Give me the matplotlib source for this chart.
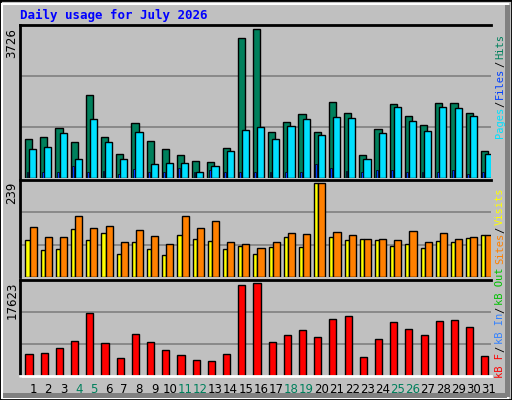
import matplotlib
matplotlib.use("Agg", force=True)
import matplotlib.pyplot as plt
from matplotlib.patches import Rectangle
import numpy as np

days = list(range(1, 32))
weekend = [4, 5, 11, 12, 18, 19, 25, 26]
hits = [969, 1020, 1248, 894, 2082, 1020, 590, 1374, 919, 717, 565, 438, 413, 742, 3524, 3726,
        1147, 1400, 1602, 1147, 1905, 1627, 565, 1222, 1855, 1551, 1324, 1880, 1880, 1627, 666]
files = [717, 767, 1121, 489, 1475, 894, 489, 1147, 362, 388, 388, 160, 312, 666, 1197, 1273,
         969, 1298, 1475, 1071, 1526, 1501, 489, 1121, 1779, 1425, 1172, 1779, 1753, 1551, 590]
pages = [150, 140, 150, 312, 150, 180, 110, 219, 150, 140, 261, 150, 190, 140, 150, 140,
         140, 150, 140, 362, 261, 180, 150, 190, 210, 150, 140, 150, 210, 90, 140]
visits = [94, 68, 71, 123, 94, 112, 58, 89, 71, 55, 107, 97, 91, 71, 79, 58,
          76, 102, 76, 239, 102, 94, 97, 94, 79, 84, 73, 91, 89, 99, 107]
sites = [128, 102, 102, 154, 125, 130, 89, 120, 104, 84, 156, 125, 141, 89, 84, 73,
         89, 112, 110, 239, 115, 107, 97, 97, 94, 117, 89, 112, 97, 102, 107]
kbytes = [4180, 4373, 5274, 6624, 11833, 6238, 3344, 7975, 6432, 4888, 3923, 2958, 2765, 4180,
          17237, 17623, 6432, 7782, 8747, 7396, 10869, 11255, 3537, 7010, 10290, 8940, 7782,
          10483, 10676, 9325, 3730]

W, H = 512, 400
BG = "#C0C0C0"
fig = plt.figure(figsize=(W / 100, H / 100), dpi=100, facecolor=BG)

# frame / bevel, drawn under the axes
fig.patches.append(Rectangle((0, 0), W, H, transform=None, fc=BG, ec="black", lw=2, zorder=-3))
fig.patches.append(Rectangle((2, 2), W - 6, H - 6, transform=None, fill=False, ec="white", lw=1.5, zorder=-2))
fig.patches.append(Rectangle((W - 7, 3), 5, H - 8, transform=None, fc="#808080", ec="none", zorder=-2))
fig.patches.append(Rectangle((3, 2), W - 8, 5, transform=None, fc="#808080", ec="none", zorder=-2))

x = np.array(days) - 1
px_left, px_right = 20, 491


def panel(top, bottom):
    ax = fig.add_axes([px_left / W, 1 - bottom / H, (px_right - px_left) / W, (bottom - top) / H])
    ax.set_zorder(1)
    ax.set_facecolor(BG)
    ax.set_xlim(0, 31)
    ax.set_xticks([])
    ax.set_yticks([])
    for s in ax.spines.values():
        s.set_visible(False)
    for side_name in ("top", "left"):
        ax.spines[side_name].set_visible(True)
        ax.spines[side_name].set_color("black")
        ax.spines[side_name].set_linewidth(2)
    return ax


kw = dict(align="edge", edgecolor="black", linewidth=1.0)

ax1 = panel(25, 178)
ymax = max(hits) * 1.03
ax1.set_ylim(0, ymax)
for f in (1 / 3, 2 / 3):
    ax1.axhline(ymax * f, color="#808080", lw=1.2, zorder=0)
ax1.bar(x + 0.33, hits, width=0.47, color="#00805C", **kw)
ax1.bar(x + 0.6, files, width=0.47, color="#00E0FF", **kw)
ax1.bar(x + 0.43, pages, width=0.12, color="#0040FF", edgecolor="black", linewidth=0.5, align="edge")

ax2 = panel(180, 277)
ymax = max(sites) * 1.03
ax2.set_ylim(0, ymax)
for f in (1 / 3, 2 / 3):
    ax2.axhline(ymax * f, color="#808080", lw=1.2, zorder=0)
ax2.bar(x + 0.36, visits, width=0.27, color="#FFFF00", **kw)
ax2.bar(x + 0.63, sites, width=0.47, color="#FF8000", **kw)

ax3 = panel(280, 376)
ymax = max(kbytes) * 1.03
ax3.set_ylim(0, ymax)
for f in (1 / 3, 2 / 3):
    ax3.axhline(ymax * f, color="#808080", lw=1.2, zorder=0)
ax3.bar(x + 0.36, kbytes, width=0.47, color="#FF0000", **kw)
ax3.spines["bottom"].set_visible(True)
ax3.spines["bottom"].set_color("white")
ax3.spines["bottom"].set_linewidth(2)
ax3.set_xticks(x + 0.86)
ax3.set_xticklabels([str(d) for d in days], fontsize=8.5, family="DejaVu Sans")
ax3.tick_params(axis="x", length=0, pad=5)
for lbl, d in zip(ax3.get_xticklabels(), days):
    lbl.set_color("#00805C" if d in weekend else "black")


def fy(py):
    return 1 - py / H


fig.text(20 / W, fy(15), "Daily usage for July 2026", color="#0000FF", fontsize=9,
         fontweight="bold", family="DejaVu Sans Mono", va="center")
for txt, py in [(str(max(hits)), 28), (str(max(sites)), 182), (str(max(kbytes)), 282)]:
    fig.text(12 / W, fy(py), txt, rotation=90, fontsize=8.5, va="top", ha="center")


def side(pieces, py_bottom):
    y = fy(py_bottom)
    for txt, col in pieces:
        fig.text(500 / W, y, txt, rotation=90, color=col, fontsize=7.5,
                 family="DejaVu Sans Mono", va="bottom", ha="center")
        y += (len(txt) + 0.4) * 5.8 / H


side([("Pages", "#00E0FF"), ("/", "black"), ("Files", "#0040FF"), ("/", "black"), ("Hits", "#00805C")], 138)
side([("Sites", "#FF8000"), ("/", "black"), ("Visits", "#FFFF00")], 264)
side([("kB F", "#FF0000"), ("/", "black"), ("kB In", "#3080FF"), ("/", "black"), ("kB Out", "#00C000")], 378)

fig.savefig("out.png", dpi=100, facecolor=BG)
